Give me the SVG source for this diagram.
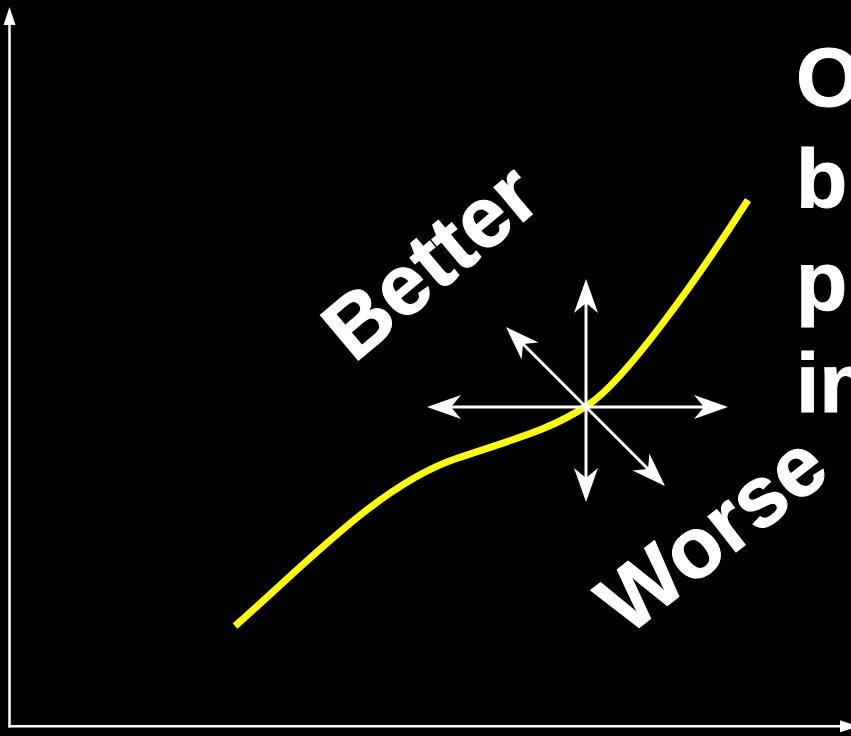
<svg xmlns="http://www.w3.org/2000/svg" width="851" height="736" viewBox="0 0 851 736">
  <style>
    .axis { stroke: #ffffff; stroke-width: 2.5; fill: none; }
    .dir { stroke: #ffffff; stroke-width: 3; fill: none; }
    .curve { stroke: #ffff00; stroke-width: 7; fill: none; stroke-linecap: butt; }
    .lbl { fill: #ffffff; stroke: #ffffff; stroke-width: 1; font-family: "Liberation Sans", Arial, sans-serif; font-weight: bold; }
  </style>
  <defs>
    <marker id="axhead" markerUnits="userSpaceOnUse" markerWidth="20" markerHeight="14" refX="1" refY="7" orient="auto" overflow="visible">
      <path d="M0,1 L18,7 L0,13 Z" fill="#ffffff"/>
    </marker>
    <marker id="barb" markerUnits="userSpaceOnUse" markerWidth="36" markerHeight="26" refX="10" refY="13" orient="auto-start-reverse" overflow="visible">
      <path d="M34,13 L0,1 L10,13 L0,25 Z" fill="#ffffff"/>
    </marker>
  </defs>
  <rect x="0" y="0" width="851" height="736" fill="#000000"/>

  <g id="axes">
    <path class="axis" d="M9.5,727.5 L9.5,24" marker-end="url(#axhead)"/>
    <path class="axis" d="M8.5,726.3 L841,726.3" marker-end="url(#axhead)"/>
  </g>

  <g id="curve">
    <path class="curve" d="M235,626 C310,560 380,485 455,459 C520,437 550,430 588,405 C626,380 700,275 748,200"/>
  </g>

  <g id="connectors">
    <path class="dir" d="M586,303 L586,478" marker-start="url(#barb)" marker-end="url(#barb)"/>
    <path class="dir" d="M451,407 L704,407" marker-start="url(#barb)" marker-end="url(#barb)"/>
    <path class="dir" d="M523,344 L648,469" marker-start="url(#barb)" marker-end="url(#barb)"/>
  </g>

  <g id="better">
    <text class="lbl" font-size="86" transform="translate(354,364) rotate(-40)">Better</text>
  </g>
  <g id="worse">
    <text class="lbl" font-size="86" transform="translate(627,637) rotate(-38)">Worse</text>
  </g>
  <g id="sidetext">
    <text class="lbl" font-size="84" x="796" y="106">O</text>
    <text class="lbl" font-size="84" x="796" y="208">b</text>
    <text class="lbl" font-size="84" x="796" y="310">p</text>
    <text class="lbl" font-size="84" x="796" y="412">in</text>
  </g>
</svg>
